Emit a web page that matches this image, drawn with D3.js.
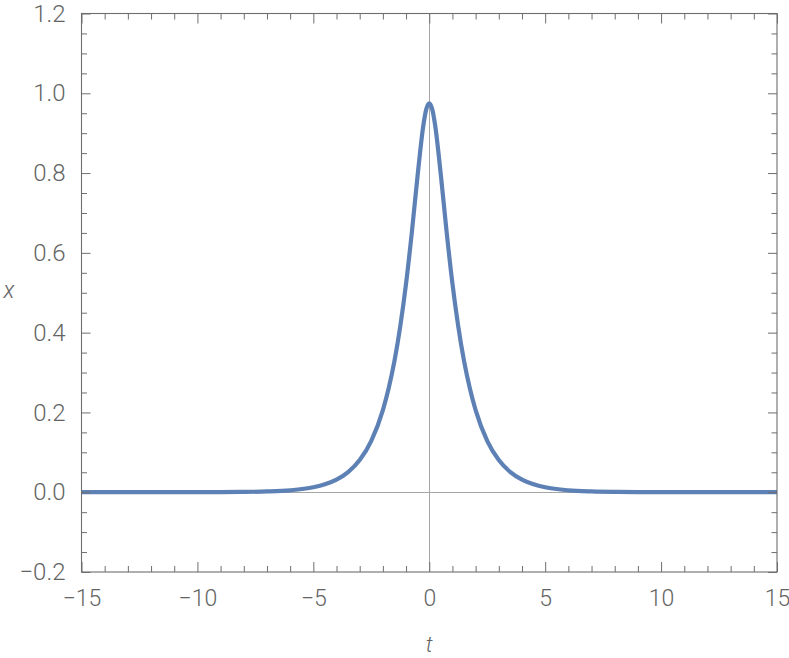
<!DOCTYPE html>
<html>
<head>
<meta charset="utf-8">
<script src="https://cdn.jsdelivr.net/npm/d3@7"></script>
<style>
  html, body { margin: 0; padding: 0; background: #fff; }
  svg text { font-family: Roboto, "Liberation Sans", sans-serif; fill: #646464; font-weight: 300; }
</style>
</head>
<body>
<svg id="chart" width="789" height="658"></svg>
<script>
// ---- data ----
const tValues = [-15, -12, -10, -9, -8, -7, -6, -5, -4.5, -4, -3.5, -3, -2.5, -2, -1.75, -1.5, -1.25, -1, -0.75, -0.5, -0.25, -0.125, 0,
                 0.125, 0.25, 0.5, 0.75, 1, 1.25, 1.5, 1.75, 2, 2.5, 3, 3.5, 4, 4.5, 5, 6, 7, 8, 9, 10, 12, 15];
const xValues = [0, 0, 0.0001, 0.0003, 0.0007, 0.0019, 0.0048, 0.0123, 0.0197, 0.0314, 0.0503, 0.0805, 0.1288, 0.206, 0.2605, 0.329, 0.416, 0.523, 0.652, 0.795, 0.9215, 0.961, 0.975,
                 0.961, 0.9215, 0.795, 0.652, 0.523, 0.416, 0.329, 0.2605, 0.206, 0.1288, 0.0805, 0.0503, 0.0314, 0.0197, 0.0123, 0.0048, 0.0019, 0.0007, 0.0003, 0.0001, 0, 0];
const xTicksMajor = [-15, -10, -5, 0, 5, 10, 15];
const yTicksMajor = [-0.2, 0.0, 0.2, 0.4, 0.6, 0.8, 1.0, 1.2];
const xDomain = [-15, 15];
const yDomain = [-0.2, 1.2];
const xTitle = "t";
const yTitle = "x";

// ---- layout ----
const L = 81.5, R = 777, T = 13.5, B = 572;
const svg = d3.select("#chart");
const xs = d3.scaleLinear().domain(xDomain).range([L, R]);
const ys = d3.scaleLinear().domain(yDomain).range([B, T]);

const frameColor = "#6e6e6e";
const fmtX = d3.format("d");
const fmtY = d3.format(".1f");

// zero axes
svg.append("line").attr("x1", L).attr("x2", R).attr("y1", Math.round(ys(0)) + 0.5).attr("y2", Math.round(ys(0)) + 0.5)
  .attr("stroke", "#a6a6a6").attr("stroke-width", 1);
svg.append("line").attr("y1", T).attr("y2", B).attr("x1", Math.round(xs(0)) + 0.5).attr("x2", Math.round(xs(0)) + 0.5)
  .attr("stroke", "#a6a6a6").attr("stroke-width", 1);

// curve
const pts = tValues.map((t, i) => [t, xValues[i]]);
svg.append("path").datum(pts)
  .attr("d", d3.line().x(d => xs(d[0])).y(d => ys(d[1])).curve(d3.curveMonotoneX))
  .attr("fill", "none").attr("stroke", "#5e81b5").attr("stroke-width", 4.2)
  .attr("stroke-linejoin", "round").attr("stroke-linecap", "butt");

// frame
svg.append("rect").attr("x", L).attr("y", T).attr("width", R - L).attr("height", B - T)
  .attr("fill", "none").attr("stroke", frameColor).attr("stroke-width", 1.1);

// ticks via axes
const xMinor = d3.range(-15, 16, 1).filter(v => !xTicksMajor.includes(v));
const yMinor = d3.range(-20, 121, 5).map(v => v / 100).filter(v => !yTicksMajor.some(m => Math.abs(m - v) < 1e-9));

function styleAxis(g) {
  g.select(".domain").remove();
  g.selectAll(".tick line").attr("stroke", frameColor).attr("stroke-width", 1);
}

// bottom
svg.append("g").attr("transform", `translate(0,${B})`)
  .call(d3.axisBottom(xs).tickValues(xTicksMajor).tickSize(-10).tickPadding(18).tickFormat(fmtX))
  .call(styleAxis)
  .call(g => g.selectAll("text").attr("font-size", 23).attr("fill", "#646464").attr("font-family", "Roboto, sans-serif"));
svg.append("g").attr("transform", `translate(0,${B})`)
  .call(d3.axisBottom(xs).tickValues(xMinor).tickSize(-6).tickFormat(""))
  .call(styleAxis);
// top
svg.append("g").attr("transform", `translate(0,${T})`)
  .call(d3.axisTop(xs).tickValues(xTicksMajor).tickSize(-10).tickFormat(""))
  .call(styleAxis);
svg.append("g").attr("transform", `translate(0,${T})`)
  .call(d3.axisTop(xs).tickValues(xMinor).tickSize(-6).tickFormat(""))
  .call(styleAxis);
// left
svg.append("g").attr("transform", `translate(${L},0)`)
  .call(d3.axisLeft(ys).tickValues(yTicksMajor).tickSize(-9).tickPadding(16).tickFormat(fmtY))
  .call(styleAxis)
  .call(g => g.selectAll("text").attr("font-size", 24).attr("fill", "#646464").attr("font-family", "Roboto, sans-serif"));
svg.append("g").attr("transform", `translate(${L},0)`)
  .call(d3.axisLeft(ys).tickValues(yMinor).tickSize(-5.5).tickFormat(""))
  .call(styleAxis);
// right
svg.append("g").attr("transform", `translate(${R},0)`)
  .call(d3.axisRight(ys).tickValues(yTicksMajor).tickSize(-9).tickFormat(""))
  .call(styleAxis);
svg.append("g").attr("transform", `translate(${R},0)`)
  .call(d3.axisRight(ys).tickValues(yMinor).tickSize(-5.5).tickFormat(""))
  .call(styleAxis);

// titles
svg.append("text").attr("x", xs(0)).attr("y", 652).attr("text-anchor", "middle")
  .attr("font-size", 22).attr("font-style", "italic").text(xTitle);
svg.append("text").attr("x", 9).attr("y", 298).attr("text-anchor", "middle")
  .attr("font-size", 23).attr("font-style", "italic").text(yTitle);
</script>
</body>
</html>
